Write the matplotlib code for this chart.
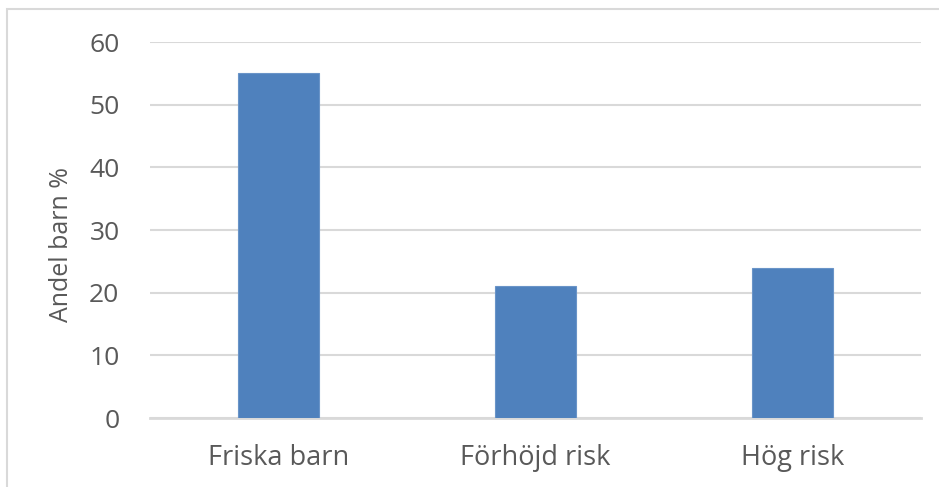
import matplotlib.pyplot as plt
from matplotlib.patches import Rectangle

categories = ['Friska barn', 'Förhöjd risk', 'Hög risk']
andel = [55, 21, 24]
yticks = [0, 10, 20, 30, 40, 50, 60]

plt.rcParams['font.family'] = ['Open Sans', 'DejaVu Sans']

fig = plt.figure(figsize=(9.39, 4.87), dpi=100)
ax = fig.add_axes([150 / 939, 1 - 418 / 487, 771 / 939, 376 / 487])

# light frame around the chart area
fig.patches.append(Rectangle((7 / 939, -0.05), 1.0, 1 - 9 / 487 + 0.05,
                             transform=fig.transFigure, fill=False,
                             edgecolor='#d9d9d9', linewidth=1.5))

x = range(len(categories))
ax.bar(x, andel, width=0.315, color='#4f81bd', edgecolor='#6a94c8',
       linewidth=0.8, zorder=3)

ax.set_xlim(-0.5, 2.5)
ax.set_ylim(0, 60)
ax.set_yticks(yticks)
ax.set_xticks(list(x))
ax.set_xticklabels(categories)
ax.grid(axis='y', color='#d9d9d9', linewidth=1.5, zorder=0)
ax.set_axisbelow(True)
for s in ['top', 'right', 'left']:
    ax.spines[s].set_visible(False)
ax.spines['bottom'].set_color('#d9d9d9')
ax.spines['bottom'].set_linewidth(2)
ax.tick_params(axis='y', length=0, labelsize=19, colors='#595959', pad=22)
ax.tick_params(axis='x', length=0, labelsize=19.5, colors='#595959', pad=19)

fig.text(62 / 939, 1 - 245 / 487, 'Andel barn %', rotation=90, fontsize=18,
         color='#595959', ha='center', va='center')

fig.savefig('out.png', dpi=100)
